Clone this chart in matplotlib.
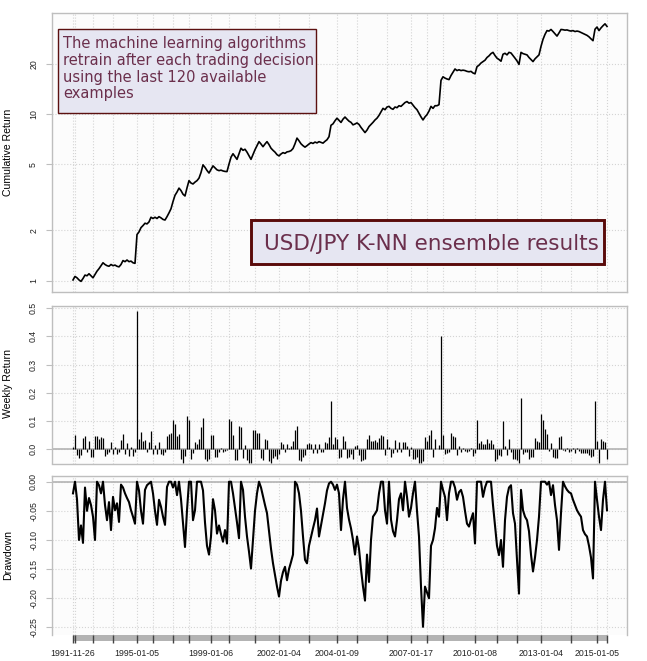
import numpy as np
import matplotlib
matplotlib.use("Agg")
import matplotlib.pyplot as plt
import matplotlib.transforms as mtransforms
from matplotlib.patches import Rectangle
from matplotlib.ticker import NullLocator

plt.rcParams['font.family'] = ['Liberation Sans', 'DejaVu Sans']

# x axis is by observation (trading decision), not by calendar time
# first observation of each year
year_idx = [0, 1, 10, 20, 32, 40, 50, 58, 69, 78, 91, 103, 118, 132, 142,
            157, 169, 177, 185, 201, 212, 222, 234, 249, 262, 267]
year_lbl = ["1991-11-26", "", "", "", "1995-01-05", "", "", "", "1999-01-06", "",
            "", "2002-01-04", "", "2004-01-09", "", "", "2007-01-17", "", "",
            "2010-01-08", "", "", "2013-01-04", "", "2015-01-05", ""]

# cumulative return (growth of 1)
cum_return = [
    1.01, 1.06, 1.04, 1.01, 0.99, 1.03, 1.08, 1.07, 1.10, 1.07,
    1.04, 1.09, 1.14, 1.18, 1.23, 1.28, 1.25, 1.23, 1.22, 1.25,
    1.23, 1.24, 1.22, 1.21, 1.25, 1.32, 1.30, 1.33, 1.30, 1.31,
    1.28, 1.27, 1.89, 1.96, 2.08, 2.14, 2.21, 2.19, 2.25, 2.40,
    2.36, 2.40, 2.36, 2.42, 2.38, 2.33, 2.31, 2.42, 2.55, 2.70,
    2.98, 3.25, 3.40, 3.59, 3.47, 3.30, 3.22, 3.60, 3.98, 3.85,
    3.80, 3.90, 3.98, 4.12, 4.45, 4.95, 4.78, 4.58, 4.42, 4.65,
    4.88, 4.75, 4.62, 4.57, 4.60, 4.55, 4.52, 4.51, 5.00, 5.50,
    5.77, 5.55, 5.34, 5.78, 6.23, 6.05, 6.14, 5.90, 5.62, 5.34,
    5.70, 6.10, 6.45, 6.82, 6.60, 6.36, 6.60, 6.82, 6.55, 6.23,
    6.05, 5.90, 5.70, 5.60, 5.75, 5.86, 5.80, 5.92, 5.95, 6.02,
    6.20, 6.62, 7.16, 6.90, 6.62, 6.45, 6.32, 6.45, 6.60, 6.73,
    6.65, 6.78, 6.70, 6.82, 6.75, 6.68, 6.85, 7.00, 7.30, 8.55,
    8.72, 9.10, 9.43, 9.15, 8.89, 9.30, 9.58, 9.30, 9.05, 8.90,
    8.60, 8.70, 8.83, 8.65, 8.30, 8.00, 7.73, 8.00, 8.40, 8.65,
    8.90, 9.20, 9.43, 9.80, 10.30, 10.80, 10.60, 11.00, 11.10, 10.80,
    10.66, 11.00, 10.90, 11.20, 11.10, 11.40, 11.70, 11.86, 11.60, 11.70,
    11.30, 10.90, 10.60, 10.10, 9.60, 9.20, 9.60, 9.90, 10.40, 11.10,
    10.80, 11.20, 11.20, 11.36, 15.90, 16.70, 16.40, 16.20, 16.06, 17.00,
    17.80, 18.60, 18.20, 18.40, 18.20, 18.30, 18.20, 18.00, 17.90, 18.00,
    17.60, 17.40, 19.20, 19.60, 20.20, 20.60, 21.00, 21.80, 22.30, 23.00,
    23.40, 22.40, 21.60, 21.20, 20.70, 22.80, 23.10, 22.60, 23.40, 23.20,
    22.40, 21.60, 20.80, 19.80, 23.40, 23.00, 22.80, 22.60, 21.80, 21.20,
    20.60, 21.40, 22.00, 22.60, 25.40, 28.00, 30.00, 31.60, 31.40, 32.10,
    31.20, 30.20, 29.30, 30.60, 32.10, 32.00, 31.80, 31.90, 31.60, 31.40,
    31.60, 31.20, 31.40, 31.20, 30.80, 30.40, 30.00, 29.60, 29.00, 28.20,
    27.50, 32.20, 33.20, 31.60, 32.80, 33.80, 34.70, 33.50]

# drawdown
drawdown = [
    -0.02, 0.0, -0.03, -0.10, -0.075, -0.105, -0.01, -0.05, -0.028, -0.04,
    -0.06, -0.10, 0.0, -0.006, -0.02, 0.0, -0.04, -0.066, -0.035, -0.083,
    -0.026, -0.049, -0.037, -0.069, -0.005, -0.01, -0.02, -0.028, -0.035, -0.049,
    -0.06, -0.072, 0.0, -0.015, -0.05, -0.072, -0.014, -0.006, -0.003, 0.0,
    -0.02, -0.05, -0.074, -0.031, -0.043, -0.06, -0.074, -0.009, 0.0, 0.0,
    -0.01, 0.0, -0.023, 0.0, -0.03, -0.07, -0.112, -0.049, 0.0, 0.0,
    -0.066, -0.049, 0.0, 0.0, 0.0, -0.015, -0.07, -0.11, -0.125, -0.094,
    -0.03, -0.049, -0.089, -0.075, -0.09, -0.103, -0.083, -0.106, 0.0, 0.0,
    -0.02, -0.045, -0.07, -0.097, 0.0, -0.014, -0.06, -0.094, -0.12, -0.149,
    -0.10, -0.05, -0.02, 0.0, -0.01, -0.025, -0.04, -0.054, -0.085, -0.115,
    -0.14, -0.16, -0.18, -0.197, -0.17, -0.155, -0.146, -0.169, -0.15, -0.138,
    -0.125, 0.0, -0.005, -0.02, -0.05, -0.094, -0.134, -0.14, -0.11, -0.095,
    -0.08, -0.066, -0.046, -0.094, -0.075, -0.055, -0.037, -0.015, -0.003, 0.0,
    -0.005, -0.014, -0.005, -0.02, -0.083, -0.03, 0.0, -0.045, -0.065, -0.08,
    -0.10, -0.125, -0.094, -0.115, -0.15, -0.18, -0.204, -0.125, -0.172, -0.10,
    -0.06, -0.055, -0.049, -0.02, 0.0, 0.0, -0.049, -0.072, 0.0, -0.065,
    -0.085, -0.094, -0.066, -0.03, -0.02, -0.049, 0.0, -0.026, -0.06, -0.045,
    -0.02, 0.0, -0.05, -0.094, -0.18, -0.249, -0.18, -0.19, -0.20, -0.11,
    -0.10, -0.08, -0.045, -0.06, 0.0, -0.014, -0.026, -0.066, -0.02, 0.0,
    0.0, -0.01, -0.031, -0.018, -0.014, -0.026, -0.05, -0.072, -0.077, -0.065,
    -0.054, -0.106, 0.0, 0.0, 0.0, -0.026, -0.01, 0.0, 0.0, 0.0,
    -0.04, -0.075, -0.11, -0.126, -0.10, -0.146, -0.066, -0.026, -0.01, -0.006,
    -0.054, -0.072, -0.134, -0.192, -0.014, -0.049, -0.06, -0.066, -0.085, -0.125,
    -0.154, -0.13, -0.10, -0.06, 0.0, 0.0, 0.0, -0.005, 0.0, -0.023,
    -0.006, -0.04, -0.066, -0.117, -0.054, 0.0, -0.008, -0.014, -0.018, -0.02,
    -0.031, -0.04, -0.049, -0.055, -0.06, -0.083, -0.09, -0.094, -0.11, -0.13,
    -0.166, 0.0, -0.031, -0.06, -0.083, -0.031, 0.0, -0.049]

note_text = ("The machine learning algorithms\nretrain after each trading decision\n"
             "using the last 120 available\nexamples")
title_text = "USD/JPY K-NN ensemble results"

cum = np.array(cum_return)
dd = np.array(drawdown)
n = len(cum)
x = np.arange(n)
# period returns from the cumulative curve
ret = np.empty(n)
ret[0] = cum[0] - 1
ret[1:] = cum[1:] / cum[:-1] - 1

W, H = 647, 661
fig = plt.figure(figsize=(W / 100, H / 100), dpi=100)


def px_axes(l, t, r, b):
    return fig.add_axes([l / W, 1 - b / H, (r - l) / W, (b - t) / H])


ax1 = px_axes(52, 13, 627, 292)
ax2 = px_axes(52, 305.5, 627, 463.5)
ax3 = px_axes(52, 476, 627, 635)

frame = '#bebebe'
for ax in (ax1, ax2, ax3):
    ax.set_facecolor('#fcfcfc')
    for s in ax.spines.values():
        s.set_color(frame)
        s.set_linewidth(1.0)
    ax.set_xlim(-10.5, 277)
    ax.set_xticks(year_idx)
    ax.grid(True, color='#d4d4d4', ls=':', lw=0.8)
    ax.set_axisbelow(True)
    ax.tick_params(axis='y', length=4, color=frame, labelsize=6.3, pad=6,
                   labelrotation=90, labelcolor='#222222')

# top: cumulative return, log scale
ax1.set_yscale('log')
ax1.plot(x, cum, color='black', lw=1.2)
ax1.set_ylim(0.855, 40.3)
ax1.set_yticks([1, 2, 5, 10, 20])
ax1.set_yticklabels(['1', '2', '5', '10', '20'], va='center')
ax1.yaxis.set_minor_locator(NullLocator())
ax1.tick_params(axis='x', length=0, labelbottom=False)

# middle: weekly returns as spikes
ax2.axhline(0, color='#b3b3b3', lw=1.2, zorder=1)
ax2.vlines(x, 0, ret, color='black', lw=0.9, zorder=2)
ax2.set_ylim(-0.05, 0.509)
ax2.set_yticks([0, 0.1, 0.2, 0.3, 0.4, 0.5])
ax2.set_yticklabels(['0.0', '0.1', '0.2', '0.3', '0.4', '0.5'], va='center')
ax2.tick_params(axis='x', length=0, labelbottom=False)

# bottom: drawdown
ax3.axhline(0, color='#b3b3b3', lw=1.2, zorder=1)
ax3.plot(x, dd, color='black', lw=1.5, zorder=2)
ax3.set_ylim(-0.263, 0.0098)
ax3.set_yticks([0, -0.05, -0.10, -0.15, -0.20, -0.25])
ax3.set_yticklabels(['0.00', '-0.05', '-0.10', '-0.15', '-0.20', '-0.25'], va='center')
ax3.spines['bottom'].set_visible(False)
ax3.set_xticklabels(year_lbl)
ax3.tick_params(axis='x', length=6, width=1, color='#444444', labelsize=6.3,
                pad=4, labelcolor='#222222')
bar_tr = mtransforms.blended_transform_factory(ax3.transData, ax3.transAxes)
ax3.add_patch(Rectangle((0, -6 / 159), n - 1, 6 / 159, transform=bar_tr,
                        facecolor='#b3b3b3', edgecolor='none', clip_on=False, zorder=0.2))

# axis titles
fig.text(8 / W, 1 - 152.5 / H, 'Cumulative Return', rotation=90, ha='center', va='center', fontsize=7.6)
fig.text(8 / W, 1 - 384 / H, 'Weekly Return', rotation=90, ha='center', va='center', fontsize=7.6)
fig.text(8 / W, 1 - 555.5 / H, 'Drawdown', rotation=90, ha='center', va='center', fontsize=7.6)

# annotation boxes
txt_col = '#6b2f4c'
fig.add_artist(Rectangle((58 / W, 1 - 113 / H), 258 / W, 84 / H, transform=fig.transFigure,
                         facecolor='#e6e6f2', edgecolor='#5c1010', lw=1.0))
fig.text(63 / W, 1 - 36 / H, note_text, fontsize=10.5, family='DejaVu Sans',
         color=txt_col, va='top', ha='left', linespacing=1.15)

fig.add_artist(Rectangle((251.3 / W, 1 - 264.3 / H), 353 / W, 44 / H, transform=fig.transFigure,
                         facecolor='#e6e6f2', edgecolor='#5a0a0a', lw=2.1))
fig.text(264 / W, 1 - 250 / H, title_text, fontsize=15.5, family='DejaVu Sans',
         color=txt_col, va='baseline', ha='left')

fig.savefig('out.png', dpi=100, facecolor='white')
